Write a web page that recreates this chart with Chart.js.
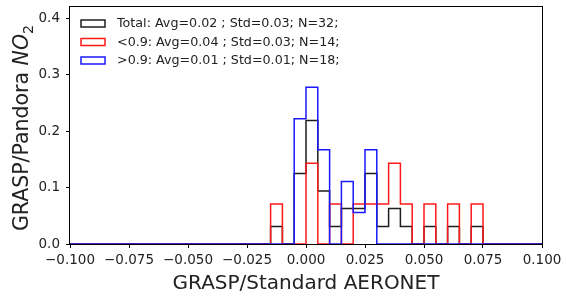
<!DOCTYPE html>
<html><head><meta charset="utf-8">
<script src="https://cdn.jsdelivr.net/npm/chart.js@4.4.1/dist/chart.umd.min.js"></script>
<style>html,body{margin:0;padding:0;background:#fff;}#wrap{width:566px;height:299px;}</style>
</head><body><div id="wrap"><canvas id="c" width="566" height="299"></canvas></div>
<script>
// ---- data ----
const binEdges = [-0.015, -0.010, -0.005, 0.000, 0.005, 0.010, 0.015, 0.020, 0.025, 0.030,
                  0.035, 0.040, 0.045, 0.050, 0.055, 0.060, 0.065, 0.070, 0.075];
const totalHeights = [0.031, 0, 0.125, 0.219, 0.094, 0.031, 0.063, 0.063, 0.125, 0.031, 0.063, 0.031, 0, 0.031, 0, 0.031, 0, 0.031];
const lowHeights   = [0.071, 0, 0, 0.143, 0, 0.071, 0, 0.071, 0.071, 0.071, 0.143, 0.071, 0, 0.071, 0, 0.071, 0, 0.071];
const highHeights  = [0, 0, 0.222, 0.278, 0.167, 0, 0.111, 0.056, 0.167, 0, 0, 0, 0, 0, 0, 0, 0, 0];
const seriesLabels = ['Total: Avg=0.02 ; Std=0.03; N=32;', '<0.9: Avg=0.04 ; Std=0.03; N=14;', '>0.9: Avg=0.01 ; Std=0.01; N=18;'];
const seriesColors = ['#1e1e1e', '#ff1a1a', '#1a1aff'];
const xTicks = [-0.1, -0.075, -0.05, -0.025, 0, 0.025, 0.05, 0.075, 0.1];
const yTicks = [0, 0.1, 0.2, 0.3, 0.4];
const xRange = [-0.1, 0.1];
const yRange = [0, 0.422];
const xTitle = 'GRASP/Standard AERONET';
const yTitleParts = ['GRASP/Pandora ', 'NO', '2'];

const FONT = "'DejaVu Sans', sans-serif";
const TXT = '#222';

function stepPoints(h) {
  const pts = [{x: xRange[0], y: 0}];
  for (let i = 0; i < h.length; i++) pts.push({x: binEdges[i], y: h[i]});
  pts.push({x: binEdges[h.length], y: 0});
  pts.push({x: xRange[1], y: 0});
  return pts;
}

const extras = {
  id: 'extras',
  beforeDatasetsDraw(chart) {
    const {ctx, chartArea: a} = chart;
    ctx.save();
    ctx.strokeStyle = '#000';
    ctx.lineWidth = 1;
    ctx.strokeRect(Math.round(a.left) - 0.5, Math.round(a.top) + 0.5,
                   Math.round(a.right - a.left) + 1, Math.round(a.bottom - a.top));
    ctx.restore();
  },
  afterDraw(chart) {
    const {ctx, chartArea: a} = chart;
    ctx.save();
    // legend
    ctx.font = '12.7px ' + FONT;
    ctx.textBaseline = 'middle';
    ctx.textAlign = 'left';
    const rows = [23.5, 42, 60.5];
    seriesLabels.forEach((t, i) => {
      ctx.strokeStyle = seriesColors[i];
      ctx.lineWidth = 1.5;
      ctx.strokeRect(81, rows[i] - 3.5, 24, 7);
      ctx.fillStyle = TXT;
      ctx.fillText(t, 117, rows[i] + 0.5);
    });
    // x title
    ctx.font = '20px ' + FONT;
    ctx.textAlign = 'center';
    ctx.textBaseline = 'alphabetic';
    ctx.fillStyle = TXT;
    ctx.fillText(xTitle, (a.left + a.right) / 2, 289);
    // y title (rotated, with italic NO and subscript 2)
    const fs = 20.5;
    const fN = fs + 'px ' + FONT, fI = 'italic ' + fs + 'px ' + FONT, fS = (fs * 0.7).toFixed(1) + 'px ' + FONT;
    ctx.font = fN; const w1 = ctx.measureText(yTitleParts[0]).width;
    ctx.font = fI; const w2 = ctx.measureText(yTitleParts[1]).width;
    ctx.font = fS; const w3 = ctx.measureText(yTitleParts[2]).width;
    const total = w1 + w2 + w3;
    ctx.translate(28, 128);
    ctx.rotate(-Math.PI / 2);
    ctx.textAlign = 'left';
    let x0 = -total / 2;
    ctx.font = fN; ctx.fillText(yTitleParts[0], x0, 0); x0 += w1;
    ctx.font = fI; ctx.fillText(yTitleParts[1], x0, 0); x0 += w2;
    ctx.font = fS; ctx.fillText(yTitleParts[2], x0, fs * 0.22);
    ctx.restore();
  }
};

const datasets = [totalHeights, lowHeights, highHeights].map((h, i) => ({
  label: seriesLabels[i],
  data: stepPoints(h),
  borderColor: seriesColors[i],
  backgroundColor: 'transparent',
  borderWidth: 1.5,
  pointRadius: 0,
  stepped: 'before',
  fill: false,
  order: 2 - i
}));

new Chart(document.getElementById('c'), {
  type: 'line',
  data: {datasets},
  options: {
    responsive: false,
    devicePixelRatio: 1,
    animation: false,
    layout: {padding: {left: 0, right: 24, top: 6, bottom: 0}},
    plugins: {legend: {display: false}, title: {display: false}, tooltip: {enabled: false}},
    scales: {
      x: {
        type: 'linear', min: xRange[0], max: xRange[1],
        afterBuildTicks: s => { s.ticks = xTicks.map(v => ({value: v})); },
        afterFit: s => { s.height = 55; s.paddingLeft = 0; s.paddingRight = 0; },
        grid: {display: true, drawOnChartArea: false, drawTicks: true, tickLength: 4, tickColor: '#000', lineWidth: 1},
        border: {display: false},
        ticks: {
          color: TXT, padding: 4, maxRotation: 0, autoSkip: false,
          font: {family: FONT, size: 13.5},
          callback: v => (v < 0 ? '\u2212' : '') + Math.abs(v).toFixed(3)
        }
      },
      y: {
        type: 'linear', min: yRange[0], max: yRange[1],
        afterBuildTicks: s => { s.ticks = yTicks.map(v => ({value: v})); },
        afterFit: s => { s.width = 70; s.paddingTop = 0; s.paddingBottom = 0; },
        grid: {display: true, drawOnChartArea: false, drawTicks: true, tickLength: 4, tickColor: '#000', lineWidth: 1},
        border: {display: false},
        ticks: {
          color: TXT, padding: 6, autoSkip: false,
          font: {family: FONT, size: 13.5},
          callback: v => v.toFixed(1)
        }
      }
    }
  },
  plugins: [extras]
});
</script>
</body></html>
